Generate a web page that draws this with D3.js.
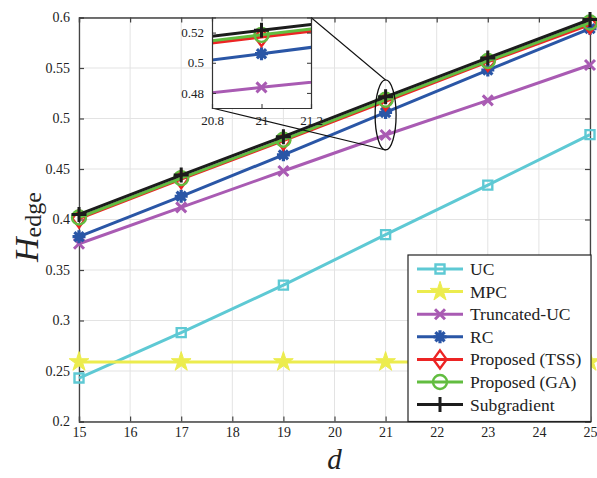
<!DOCTYPE html>
<html><head><meta charset="utf-8">
<script src="https://cdn.jsdelivr.net/npm/d3@7"></script>
<style>body{margin:0;background:#fff}svg{display:block}svg text{font-family:"Liberation Serif","Tinos","DejaVu Serif",serif !important;fill:#222}</style>
</head><body><div id="c"></div>
<script>
const dValues = [15, 17, 19, 21, 23, 25];
const xTicks = [15,16,17,18,19,20,21,22,23,24,25];
const yTicks = [0.2,0.25,0.3,0.35,0.4,0.45,0.5,0.55,0.6];
const yTickLabels = ["0.2","0.25","0.3","0.35","0.4","0.45","0.5","0.55","0.6"];
const insetXTicks = [20.8, 21, 21.2];
const insetYTicks = [0.48, 0.5, 0.52];
const insetYTickLabels = ["0.48","0.5","0.52"];
const seriesNames = ["UC","MPC","Truncated-UC","RC","Proposed (TSS)","Proposed (GA)","Subgradient"];
const ucValues        = [0.243, 0.288, 0.335, 0.385, 0.434, 0.484];
const mpcValues       = [0.259, 0.259, 0.259, 0.259, 0.259, 0.259];
const truncValues     = [0.376, 0.412, 0.448, 0.4837, 0.518, 0.553];
const rcValues        = [0.383, 0.423, 0.464, 0.506, 0.548, 0.589];
const tssValues       = [0.401, 0.440, 0.478, 0.517, 0.556, 0.593];
const gaValues        = [0.402, 0.441, 0.479, 0.5185, 0.557, 0.595];
const subgradValues   = [0.405, 0.444, 0.482, 0.5215, 0.560, 0.598];

const colors = ["#5ec9d4","#ecec4e","#a95bb3","#2a56a6","#ec2424","#62bd40","#1c1c1c"];
const markers = ["square","star","x","asterisk","diamond","circle","plus"];
const allValues = [ucValues, mpcValues, truncValues, rcValues, tssValues, gaValues, subgradValues];
const series = seriesNames.map((n,i)=>({name:n, color:colors[i], marker:markers[i], values:allValues[i]}));

const W=597,H=478;
const m={l:79,r:7,t:17.5,b:56.5};
const svg=d3.select("#c").append("svg").attr("width",W).attr("height",H);
const x=d3.scaleLinear().domain([15,25]).range([m.l,W-m.r]);
const y=d3.scaleLinear().domain([0.2,0.6]).range([H-m.b,m.t]);
const grid="#e3e3e3", axisCol="#444";

function markerPath(type, sz){
  const s=sz;
  switch(type){
    case "square": return d3.symbol(d3.symbolSquare, s*s)();
    case "diamond": return `M0,${-s*0.75}L${s*0.55},0L0,${s*0.75}L${-s*0.55},0Z`;
    case "circle": return d3.symbol(d3.symbolCircle, Math.PI*(s/2)*(s/2))();
    case "star": return d3.symbol(d3.symbolStar, s*s*0.3)();
    case "x": {const h=s/2; return `M${-h},${-h}L${h},${h}M${-h},${h}L${h},${-h}`;}
    case "plus": {const h=s/2; return `M${-h},0L${h},0M0,${-h}L0,${h}`;}
    case "asterisk": {const h=s/2; let p=""; for(let k=0;k<4;k++){const a=k*Math.PI/4; p+=`M${-h*Math.cos(a)},${-h*Math.sin(a)}L${h*Math.cos(a)},${h*Math.sin(a)}`;} return p;}
  }
}
function drawMarker(g, type, color, cx, cy, sz){
  const p=g.append("path").attr("d",markerPath(type,sz)).attr("transform",`translate(${cx},${cy})`);
  if(type==="star"){p.attr("fill",color).attr("stroke",color).attr("stroke-width",1);}
  else if(type==="x"||type==="plus"){p.attr("fill","none").attr("stroke",color).attr("stroke-width",3);}
  else if(type==="asterisk"){p.attr("fill","none").attr("stroke",color).attr("stroke-width",3.2);
    g.append("circle").attr("cx",cx).attr("cy",cy).attr("r",sz*0.3).attr("fill",color);}
  else {p.attr("fill","none").attr("stroke",color).attr("stroke-width",2.4);}
}
const msize={square:9,star:20,x:10,asterisk:13,diamond:12,circle:14,plus:15};

// grid
svg.append("g").selectAll("line").data(xTicks).join("line")
  .attr("x1",d=>x(d)).attr("x2",d=>x(d)).attr("y1",m.t).attr("y2",H-m.b).attr("stroke",grid);
svg.append("g").selectAll("line").data(yTicks).join("line")
  .attr("y1",d=>y(d)).attr("y2",d=>y(d)).attr("x1",m.l).attr("x2",W-m.r).attr("stroke",grid);

// axes (box with inward ticks)
const xa=d3.axisBottom(x).tickValues(xTicks).tickSize(-5).tickPadding(6).tickFormat(d3.format("d"));
const ya=d3.axisLeft(y).tickValues(yTicks).tickSize(-5).tickPadding(9).tickFormat((d,i)=>yTickLabels[i]);
const gx=svg.append("g").attr("transform",`translate(0,${H-m.b})`).call(xa);
const gy=svg.append("g").attr("transform",`translate(${m.l},0)`).call(ya);
svg.append("g").attr("transform",`translate(0,${m.t})`).call(d3.axisTop(x).tickValues(xTicks).tickSize(-5).tickFormat(""));
svg.append("g").attr("transform",`translate(${W-m.r},0)`).call(d3.axisRight(y).tickValues(yTicks).tickSize(-5).tickFormat(""));
svg.selectAll(".domain").attr("stroke",axisCol).attr("stroke-width",1.3);
svg.selectAll(".tick line").attr("stroke",axisCol).attr("stroke-width",1.2);
svg.selectAll(".tick text").attr("font-size",14).attr("fill","#222");

// data
const line=d3.line().x((d,i)=>x(dValues[i])).y(d=>y(d));
const dataG=svg.append("g");
series.forEach(s=>{
  dataG.append("path").attr("d",line(s.values)).attr("fill","none").attr("stroke",s.color).attr("stroke-width",3);
  s.values.forEach((v,i)=>drawMarker(dataG,s.marker,s.color,x(dValues[i]),y(v),msize[s.marker]));
});

// ellipse
const ex=x(21), ey=y(0.5035);
svg.append("ellipse").attr("cx",ex).attr("cy",ey).attr("rx",10.5).attr("ry",35).attr("fill","none").attr("stroke","#111").attr("stroke-width",1.3);

// inset
const ix=d3.scaleLinear().domain([20.8,21.2]).range([212,311]);
const iy=d3.scaleLinear().domain([0.47,0.53]).range([108,17.5]);
svg.append("line").attr("x1",311).attr("y1",17.5).attr("x2",ex).attr("y2",ey-35).attr("stroke","#111").attr("stroke-width",1.1);
svg.append("line").attr("x1",212).attr("y1",108).attr("x2",ex).attr("y2",ey+35).attr("stroke","#111").attr("stroke-width",1.1);
svg.append("defs").append("clipPath").attr("id","ic").append("rect").attr("x",212).attr("y",17.5).attr("width",99).attr("height",90.5);
svg.append("rect").attr("x",212).attr("y",17.5).attr("width",99).attr("height",90.5).attr("fill","#fff");
const ig=svg.append("g").attr("clip-path","url(#ic)");
const iline=d3.line().x((d,i)=>ix(dValues[i])).y(d=>iy(d));
series.forEach(s=>{
  ig.append("path").attr("d",iline(s.values)).attr("fill","none").attr("stroke",s.color).attr("stroke-width",3);
  s.values.forEach((v,i)=>drawMarker(ig,s.marker,s.color,ix(dValues[i]),iy(v),msize[s.marker]));
});
const ia=svg.append("g");
ia.append("g").attr("transform","translate(0,108)").call(d3.axisBottom(ix).tickValues(insetXTicks).tickSize(-4).tickPadding(8).tickFormat(d=>String(d)));
ia.append("g").attr("transform","translate(212,0)").call(d3.axisLeft(iy).tickValues(insetYTicks).tickSize(-4).tickPadding(8).tickFormat((d,i)=>insetYTickLabels[i]));
ia.append("g").attr("transform","translate(0,17.5)").call(d3.axisTop(ix).tickValues(insetXTicks).tickSize(-4).tickFormat(""));
ia.append("g").attr("transform","translate(311,0)").call(d3.axisRight(iy).tickValues(insetYTicks).tickSize(-4).tickFormat(""));
ia.selectAll(".domain").attr("stroke","#333").attr("stroke-width",1.2);
ia.selectAll(".tick line").attr("stroke","#333");
ia.selectAll(".tick text").attr("font-size",13).attr("fill","#222");

// legend
const lg=svg.append("g");
lg.append("rect").attr("x",408).attr("y",255).attr("width",183).attr("height",166.5).attr("fill","#fff").attr("stroke","#222").attr("stroke-width",1.2);
series.forEach((s,i)=>{
  const cy=269+i*22.6;
  lg.append("line").attr("x1",417).attr("x2",463).attr("y1",cy).attr("y2",cy).attr("stroke",s.color).attr("stroke-width",3);
  drawMarker(lg,s.marker,s.color,440,cy,msize[s.marker]);
  lg.append("text").attr("x",470).attr("y",cy+6).attr("font-size",17.5).text(s.name);
});

// labels
const yl=svg.append("text").attr("transform","translate(38,262) rotate(-90)").attr("font-size",34);
yl.append("tspan").attr("font-style","italic").text("H");
yl.append("tspan").attr("font-size",24).attr("dy",3).text("edge");
svg.append("text").attr("x",x(20)).attr("y",469).attr("text-anchor","middle").attr("font-size",29).attr("font-style","italic").text("d");
</script></body></html>
